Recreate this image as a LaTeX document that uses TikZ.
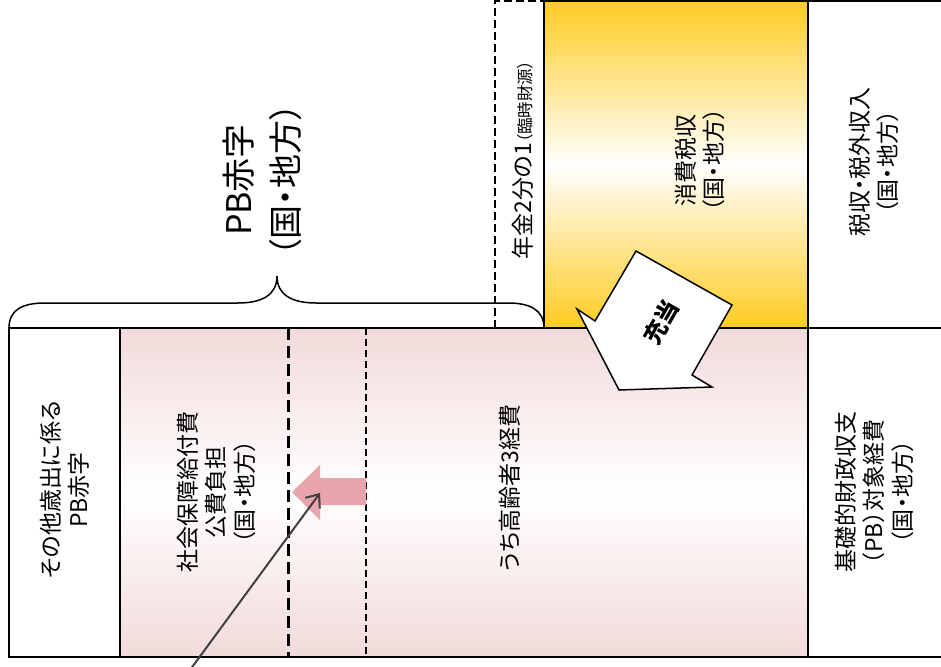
\documentclass[tikz,border=0pt]{standalone}
\usepackage{fontspec}
\setmainfont{Noto Sans CJK JP}[RawFeature=+palt]
\usetikzlibrary{arrows.meta}
\definecolor{pinkc}{RGB}{242,218,218}
\definecolor{yelc}{RGB}{255,204,34}
\definecolor{arrowpink}{RGB}{232,166,172}
\definecolor{darkg}{RGB}{64,64,64}
\begin{document}
\begin{tikzpicture}[x=1pt,y=-1pt,
  box/.style={draw=black,line width=1.6pt},
  lbl/.style={rotate=90,align=center,font=\fontsize{23}{28.5}\selectfont,inner sep=0pt},
  biglbl/.style={rotate=90,align=center,font=\fontsize{34}{47}\selectfont,inner sep=0pt},
  thickdash/.style={line width=3pt,dash pattern=on 12pt off 6pt},
  thindash/.style={line width=1.5pt,dash pattern=on 7pt off 4pt},
  boxdash/.style={line width=1.5pt,dash pattern=on 8pt off 4pt},
  bracestyle/.style={line width=1.5pt,draw=black},
  callout/.style={draw=black,line width=1.5pt,fill=white,line join=miter},
  pointer/.style={draw=darkg,line width=2pt,-{Straight Barb[length=11pt,width=18pt,line width=2pt]}}
 ]
\useasboundingbox (0,0) rectangle (941,666);
% bottom row
\draw[box,fill=white] (9,328) rectangle (120,657);
\draw[box,top color=pinkc,bottom color=pinkc,middle color=white] (120,328) rectangle (808,657);
\draw[box,fill=white] (808,328) rectangle (946,657);
% top row
\draw[box,top color=yelc,bottom color=yelc,middle color=white] (544,1) rectangle (808,328);
\draw[box,fill=white] (808,1) rectangle (946,328);
\coordinate (d0) at (495,328);
\coordinate (d1) at (495,1);
\coordinate (d2) at (544,1);
\draw[boxdash] (d0) -- (d1) -- (d2);
% dashed dividers
\coordinate (t0) at (288,328); \coordinate (t1) at (288,657);
\coordinate (s0) at (366,328); \coordinate (s1) at (366,657);
\draw[thickdash] (t0) -- (t1);
\draw[thindash] (s0) -- (s1);
% brace
\draw[bracestyle] (9,328) .. controls (9,310) and (22,303) .. (45,303) -- (238,303)
  .. controls (262,303) and (277,295) .. (277,276)
  .. controls (277,295) and (292,303) .. (316,303) -- (508,303)
  .. controls (530,303) and (544,310) .. (544,328);
% labels
\node[biglbl] (pb) at (262,180) {PB赤字\\（国・地方）};
\node[lbl] (other) at (65,490) {その他歳出に係る\\PB赤字};
\node[lbl] (social) at (216,492) {社会保障給付費\\公費負担\\（国・地方）};
\node[lbl] (elder) at (510,488) {うち高齢者3経費};
\node[lbl] (pbexp) at (874,492) {基礎的財政収支\\（PB）対象経費\\（国・地方）};
\node[lbl] (pension) at (523,160) {年金2分の1{\fontsize{16.5}{18}\selectfont（臨時財源）}};
\node[lbl] (ctax) at (700,160) {消費税収\\（国・地方）};
\node[lbl] (tax) at (874,162) {税収・税外収入\\（国・地方）};
% callout arrow 充当
\draw[callout] (636,251) -- (732,305) -- (692,375) -- (712,387) -- (619,390) -- (577,309) -- (595,321) -- cycle;
\node[rotate=60,font=\fontsize{23}{26}\selectfont\bfseries,inner sep=0pt] (juto) at (661,322) {充当};
% pink arrow
\fill[arrowpink] (292,492) -- (320,465) -- (320,478) -- (366,478) -- (366,505) -- (320,505) -- (320,520) -- cycle;
% pointer line
\coordinate (g0) at (190,670);
\coordinate (g1) at (320,493);
\draw[pointer] (g0) -- (g1);
\end{tikzpicture}
\end{document}
